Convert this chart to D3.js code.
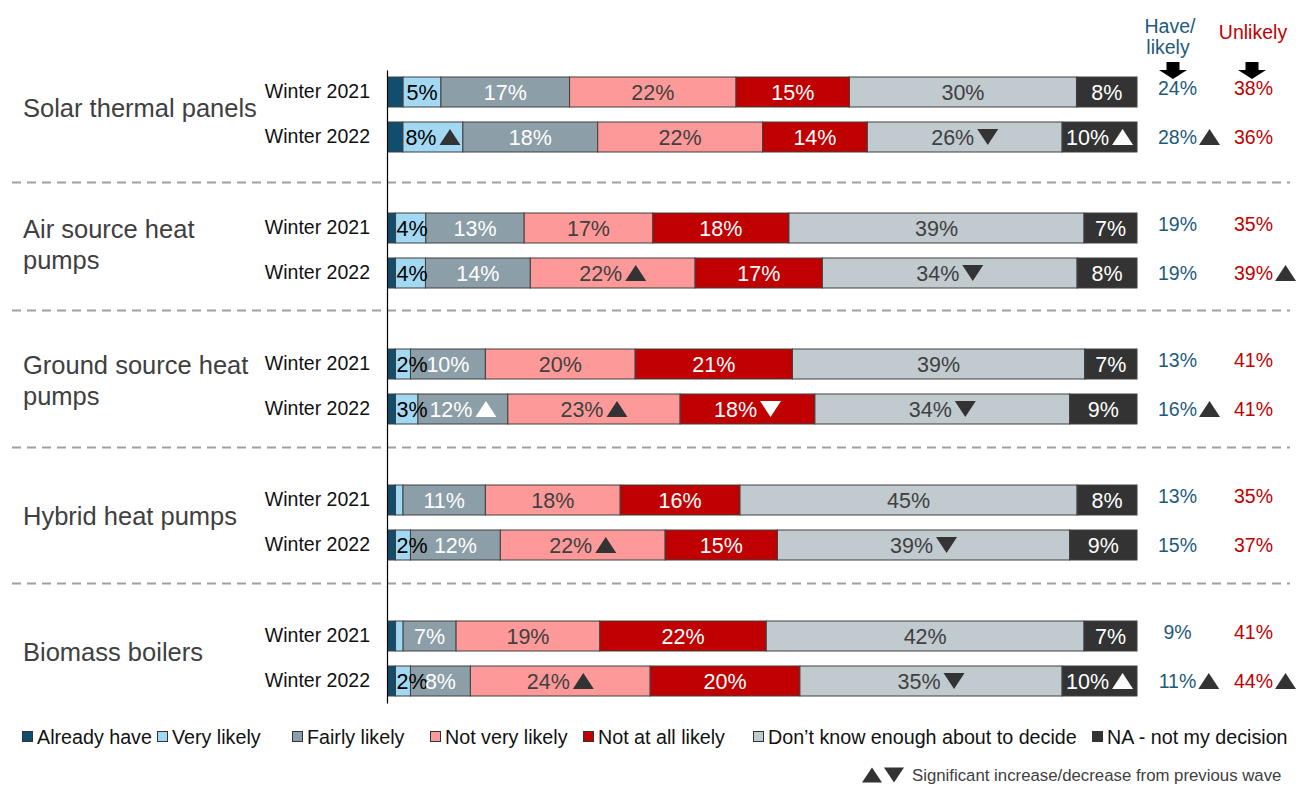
<!DOCTYPE html>
<html>
<head>
<meta charset="utf-8">
<script src="https://cdn.jsdelivr.net/npm/d3@7"></script>
<style>
  body { margin: 0; background: #ffffff; }
  svg { display: block; font-family: "Liberation Sans", Arial, sans-serif; }
</style>
</head>
<body>
<svg id="chart" width="1299" height="785"></svg>
<script>
// ---- Data -------------------------------------------------------------
const technologies = [
  "Solar thermal panels",
  "Air source heat pumps",
  "Ground source heat pumps",
  "Hybrid heat pumps",
  "Biomass boilers"
];
const waves = ["Winter 2021", "Winter 2022"];
const answers = [
  "Already have",
  "Very likely",
  "Fairly likely",
  "Not very likely",
  "Not at all likely",
  "Don\u2019t know enough about to decide",
  "NA - not my decision"
];

// Share of respondents (%) per answer, one row per technology
const winter2021 = [
  [2, 5, 17, 22, 15, 30, 8],
  [1, 4, 13, 17, 18, 39, 7],
  [1, 2, 10, 20, 21, 39, 7],
  [1, 1, 11, 18, 16, 45, 8],
  [1, 1, 7, 19, 22, 42, 7]
];
const winter2022 = [
  [2, 8, 18, 22, 14, 26, 10],
  [1, 4, 14, 22, 17, 34, 8],
  [1, 3, 12, 23, 18, 34, 9],
  [1, 2, 12, 22, 15, 39, 9],
  [1, 2, 8, 24, 20, 35, 10]
];

// Net figures shown to the right of the bars
const haveLikely2021 = [24, 19, 13, 13, 9];
const haveLikely2022 = [28, 19, 16, 15, 11];
const unlikely2021 = [38, 35, 41, 35, 41];
const unlikely2022 = [36, 39, 41, 37, 44];

// Significant change from previous wave: 1 = increase, -1 = decrease
const change2022 = [
  [0, 1, 0, 0, 0, -1, 1],
  [0, 0, 0, 1, 0, -1, 0],
  [0, 0, 1, 1, -1, -1, 0],
  [0, 0, 0, 1, 0, -1, 0],
  [0, 0, 0, 1, 0, -1, 1]
];
const haveLikelyChange2022 = [1, 0, 1, 0, 1];
const unlikelyChange2022 = [0, 1, 0, 0, 1];

// ---- Styling ----------------------------------------------------------
const fills = ["#114d6d", "#a2d8f2", "#8c9ea7", "#fe9999", "#c00000", "#c0cacf", "#333333"];
const labelColors = ["#ffffff", "#000000", "#ffffff", "#404040", "#ffffff", "#404040", "#ffffff"];
const markColors = ["#ffffff", "#333333", "#ffffff", "#333333", "#ffffff", "#333333", "#ffffff"];
const haveColor = "#1d5a7c";
const unlikelyColor = "#c00000";
const legendX = [22, 157, 292, 430, 583, 753, 1092];
const dividerShift = [0, -8, -7, -7];
const netRowShift = [-4, 0];

// ---- Build rows ---------------------------------------------------------
const rows = [];
technologies.forEach((tech, i) => {
  waves.forEach((wave, j) => {
    rows.push({
      tech, wave, techIndex: i, waveIndex: j,
      values: j ? winter2022[i] : winter2021[i],
      change: j ? change2022[i] : answers.map(() => 0),
      have: j ? haveLikely2022[i] : haveLikely2021[i],
      unlikely: j ? unlikely2022[i] : unlikely2021[i],
      haveChange: j ? haveLikelyChange2022[i] : 0,
      unlikelyChange: j ? unlikelyChange2022[i] : 0
    });
  });
});

const svg = d3.select("#chart");

// ---- Scales -------------------------------------------------------------
const x = d3.scaleLinear().domain([0, 1]).range([388, 1137]);
const yGroup = d3.scaleBand().domain(technologies).range([46.5, 726.5]);
const yWave = d3.scaleBand().domain(waves).range([0, yGroup.bandwidth()])
  .paddingInner(1 / 3).paddingOuter(0.678);
const rowTop = d => yGroup(d.tech) + yWave(d.wave);
const rowMid = d => rowTop(d) + yWave.bandwidth() / 2;

const stack = d3.stack()
  .keys(d3.range(answers.length))
  .value((d, k) => d.values[k])
  .offset(d3.stackOffsetExpand);
const series = stack(rows);

function triangle(cx, cy, dir, w = 21, h = 16) {
  const p = d3.path();
  if (dir > 0) {
    p.moveTo(cx - w / 2, cy + h / 2); p.lineTo(cx + w / 2, cy + h / 2); p.lineTo(cx, cy - h / 2);
  } else {
    p.moveTo(cx - w / 2, cy - h / 2); p.lineTo(cx + w / 2, cy - h / 2); p.lineTo(cx, cy + h / 2);
  }
  p.closePath();
  return p.toString();
}

// ---- Group dividers -------------------------------------------------------
svg.append("g").selectAll("line")
  .data(technologies.slice(1))
  .join("line")
  .attr("x1", 12).attr("x2", 1290)
  .attr("y1", (t, i) => yGroup(t) + dividerShift[i])
  .attr("y2", (t, i) => yGroup(t) + dividerShift[i])
  .attr("stroke", "#a0a0a0").attr("stroke-width", 2)
  .attr("stroke-dasharray", "9,6");

// ---- Bars -------------------------------------------------------------------
const layers = svg.append("g").selectAll("g")
  .data(series)
  .join("g")
  .attr("fill", s => fills[s.key]);

layers.selectAll("rect")
  .data(s => s)
  .join("rect")
  .attr("x", p => x(p[0]))
  .attr("width", p => x(p[1]) - x(p[0]))
  .attr("y", p => rowTop(p.data))
  .attr("height", yWave.bandwidth())
  .attr("stroke", "#404040")
  .attr("stroke-width", 1);

// ---- Segment labels ---------------------------------------------------------
const labelGroup = svg.append("g").attr("font-size", 21.5);
series.forEach(s => {
  const k = s.key;
  if (k === 0) return;
  s.forEach(p => {
    const v = p.data.values[k];
    if (v < 2) return;
    const x0 = x(p[0]), x1 = x(p[1]);
    const cy = rowMid(p.data);
    const dir = p.data.change[k];
    const t = labelGroup.append("text")
      .attr("y", cy).attr("dy", "0.35em")
      .attr("fill", labelColors[k])
      .text(v + "%");
    const tw = t.node().getComputedTextLength();
    const gap = 3, triW = 21;
    const total = tw + (dir ? gap + triW : 0);
    let start = (x0 + x1) / 2 - total / 2;
    if (total > x1 - x0) start = x0 + 1;
    t.attr("x", start);
    if (dir) {
      labelGroup.append("path")
        .attr("d", triangle(start + tw + gap + triW / 2, cy, dir))
        .attr("fill", markColors[k]);
    }
  });
});

// ---- Axis line ------------------------------------------------------------
svg.append("g")
  .attr("transform", "translate(387,0)")
  .call(d3.axisLeft(d3.scaleLinear().range([70, 703])).ticks(0).tickSizeOuter(0))
  .select(".domain").attr("stroke", "#000").attr("stroke-width", 1.2);

// ---- Wave labels --------------------------------------------------------------
svg.append("g").selectAll("text")
  .data(rows)
  .join("text")
  .attr("x", 370).attr("y", d => rowMid(d) - 1).attr("dy", "0.35em")
  .attr("text-anchor", "end").attr("font-size", 19.5).attr("fill", "#111")
  .text(d => d.wave);

// ---- Technology labels --------------------------------------------------------
function wrapWords(text, maxWidth, size) {
  const probe = svg.append("text").attr("font-size", size);
  const words = text.split(" ");
  const lines = [];
  let line = [];
  words.forEach(w => {
    const trial = line.concat(w).join(" ");
    probe.text(trial);
    if (probe.node().getComputedTextLength() > maxWidth && line.length) {
      lines.push(line.join(" "));
      line = [w];
    } else {
      line.push(w);
    }
  });
  lines.push(line.join(" "));
  probe.remove();
  return lines;
}
const catSize = 25.5, catLine = 31;
technologies.forEach(tech => {
  const lines = wrapWords(tech, 240, catSize);
  const cy = yGroup(tech) + yGroup.bandwidth() / 2 - 6;
  const t = svg.append("text")
    .attr("font-size", catSize).attr("fill", "#404040");
  lines.forEach((ln, i) => {
    t.append("tspan")
      .attr("x", 23)
      .attr("y", cy + (i - (lines.length - 1) / 2) * catLine)
      .attr("dy", "0.35em")
      .text(ln);
  });
});

// ---- Net columns ----------------------------------------------------------------
const haveX = 1177.5, unlikelyX = 1253.5;
function netValue(cx, d, value, dir, color) {
  const cy = rowMid(d) + netRowShift[d.waveIndex];
  const t = svg.append("text")
    .attr("x", cx).attr("y", cy).attr("dy", "0.35em")
    .attr("text-anchor", "middle").attr("font-size", 19.5).attr("fill", color)
    .text(value + "%");
  if (dir) {
    const tw = t.node().getComputedTextLength();
    svg.append("path")
      .attr("d", triangle(cx + tw / 2 + 2 + 10.5, cy, dir))
      .attr("fill", "#333333");
  }
}
rows.forEach(d => {
  netValue(haveX, d, d.have, d.haveChange, haveColor);
  netValue(unlikelyX, d, d.unlikely, d.unlikelyChange, unlikelyColor);
});

// Column headers with block arrows
svg.append("text").attr("x", 1170).attr("y", 33).attr("text-anchor", "middle")
  .attr("font-size", 19.5).attr("fill", haveColor).text("Have/");
svg.append("text").attr("x", 1168).attr("y", 54).attr("text-anchor", "middle")
  .attr("font-size", 19.5).attr("fill", haveColor).text("likely");
svg.append("text").attr("x", 1253).attr("y", 39).attr("text-anchor", "middle")
  .attr("font-size", 19.5).attr("fill", unlikelyColor).text("Unlikely");
function blockArrow(cx) {
  const p = d3.path();
  p.moveTo(cx - 6.5, 62); p.lineTo(cx + 6.5, 62); p.lineTo(cx + 6.5, 70);
  p.lineTo(cx + 14, 70); p.lineTo(cx, 79); p.lineTo(cx - 14, 70);
  p.lineTo(cx - 6.5, 70); p.closePath();
  return p.toString();
}
svg.append("path").attr("d", blockArrow(1173)).attr("fill", "#000");
svg.append("path").attr("d", blockArrow(1252)).attr("fill", "#000");

// ---- Legend ---------------------------------------------------------------------
const legend = svg.append("g").selectAll("g")
  .data(answers)
  .join("g")
  .attr("transform", (a, i) => `translate(${legendX[i]},737)`);
legend.append("rect")
  .attr("x", 0.5).attr("y", -5.5).attr("width", 10).attr("height", 10)
  .attr("fill", (a, i) => fills[i]).attr("stroke", "#333").attr("stroke-width", 1);
legend.append("text")
  .attr("x", 15).attr("dy", "0.35em")
  .attr("font-size", 19.7).attr("fill", "#111")
  .text(a => a);

// Significance note
svg.append("path").attr("d", triangle(872, 775, 1, 20, 15)).attr("fill", "#333");
svg.append("path").attr("d", triangle(894, 775, -1, 20, 15)).attr("fill", "#333");
svg.append("text").attr("x", 912).attr("y", 775).attr("dy", "0.35em")
  .attr("font-size", 16.8).attr("fill", "#404040")
  .text("Significant increase/decrease from previous wave");
</script>
</body>
</html>
